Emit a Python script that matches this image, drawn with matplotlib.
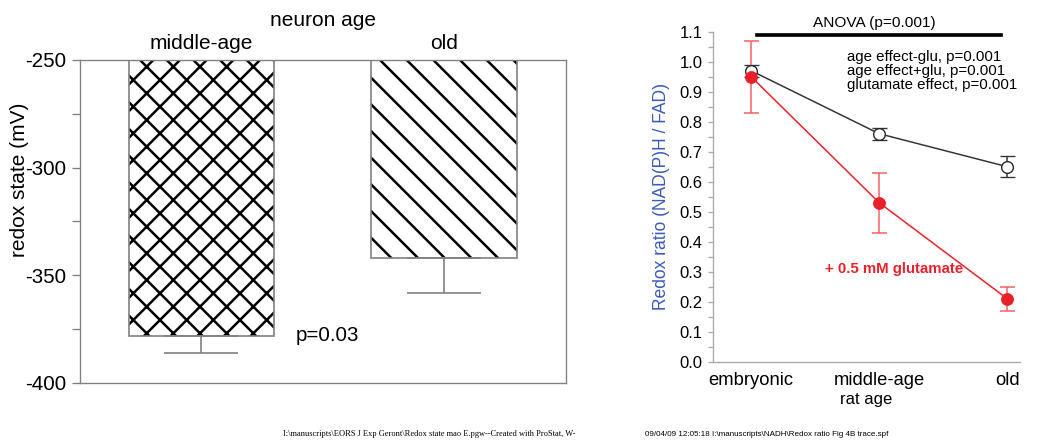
import matplotlib
matplotlib.use('Agg')
import matplotlib.pyplot as plt
from matplotlib.ticker import MultipleLocator, FormatStrFormatter

# 데이터
neuron_ages = ['middle-age', 'old']
redox_state = [-378, -342]
redox_sem = [8, 16]

rat_ages = ['embryonic', 'middle-age', 'old']
ratio_ctrl = [0.97, 0.76, 0.65]
ratio_ctrl_err = [0.02, 0.02, 0.035]
ratio_glu = [0.95, 0.53, 0.21]
ratio_glu_err = [0.12, 0.10, 0.04]

# dpi 80 으로 저장 (해칭 간격 맞추기) -> 크기는 120dpi 기준 값에 K 를 곱함
DPI = 80
K = 120 / DPI

plt.rcParams['font.family'] = ['Liberation Sans', 'DejaVu Sans']
plt.rcParams['axes.unicode_minus'] = False
plt.rcParams['hatch.linewidth'] = 1.5 * K
plt.rcParams['axes.linewidth'] = 0.8 * K

fig = plt.figure(figsize=(1050 / DPI, 444 / DPI), dpi=DPI)
grey = '#808080'
red = '#e8202a'

# ---- 왼쪽: 막대 그래프 ----
ax1 = fig.add_axes([0.0762, 0.1374, 0.4626, 0.7275])
xs = range(len(neuron_ages))
heights = [v - (-250) for v in redox_state]
ax1.bar(xs, heights, bottom=-250, width=0.6, color='white', edgecolor='black',
        linewidth=0, hatch=['x', '\\'])
ax1.bar(xs, heights, bottom=-250, width=0.6, color='none', edgecolor=grey, linewidth=1 * K)
ax1.errorbar(xs, redox_state, yerr=[redox_sem, [0] * len(redox_sem)], fmt='none',
             ecolor=grey, elinewidth=1 * K, capsize=22 * K, capthick=1 * K)
ax1.set_xlim(-0.5, 1.5)
ax1.set_ylim(-400, -250)
ax1.set_yticks([-400, -350, -300, -250])
ax1.yaxis.set_minor_locator(MultipleLocator(25))
ax1.tick_params(axis='y', which='both', direction='out', length=5 * K, width=0.8 * K,
                color=grey, labelsize=12.3 * K, pad=3 * K)
ax1.xaxis.tick_top()
ax1.set_xticks(list(xs))
ax1.set_xticklabels(neuron_ages)
ax1.tick_params(axis='x', length=0, labelsize=12.5 * K, pad=4 * K)
ax1.xaxis.set_label_position('top')
ax1.set_xlabel('neuron age', fontsize=12.5 * K, labelpad=5 * K)
for s in ax1.spines.values():
    s.set_color(grey)
ax1.set_ylabel('redox state (mV)', fontsize=12.5 * K)
ax1.yaxis.set_label_coords(-0.105, 0.63)
ax1.text(0.39, -378, 'p=0.03', fontsize=12.3 * K, va='center', ha='left')

# ---- 오른쪽: 선 그래프 ----
ax2 = fig.add_axes([0.6788, 0.1854, 0.2926, 0.7432])
xr = range(len(rat_ages))
ax2.errorbar(xr, ratio_ctrl, yerr=ratio_ctrl_err, color='#333333', lw=0.9 * K,
             marker='o', ms=7 * K, mfc='white', mec='#222222', mew=0.8 * K,
             ecolor='#333333', elinewidth=0.9 * K, capsize=4.5 * K, capthick=0.9 * K)
ax2.errorbar(xr, ratio_glu, yerr=ratio_glu_err, color=red, lw=0.9 * K,
             marker='o', ms=7 * K, mfc=red, mec=red,
             ecolor='#f06060', elinewidth=0.9 * K, capsize=4.5 * K, capthick=0.9 * K)
ax2.set_xlim(-0.3, 2.1)
ax2.set_ylim(0, 1.1)
ax2.yaxis.set_major_locator(MultipleLocator(0.1))
ax2.yaxis.set_minor_locator(MultipleLocator(0.05))
ax2.yaxis.set_major_formatter(FormatStrFormatter('%.1f'))
ax2.tick_params(axis='y', which='both', direction='out', length=3 * K, width=0.8 * K,
                color='#aaaaaa', labelsize=10 * K, pad=3 * K)
ax2.set_xticks(list(xr))
ax2.set_xticklabels(rat_ages)
ax2.tick_params(axis='x', length=0, labelsize=11 * K, pad=6 * K)
ax2.set_xlabel('rat age', fontsize=10 * K, labelpad=2 * K)
ax2.spines['top'].set_visible(False)
ax2.spines['right'].set_visible(False)
ax2.spines['left'].set_color('#aaaaaa')
ax2.spines['bottom'].set_color('#aaaaaa')
ax2.set_ylabel('Redox ratio (NAD(P)H / FAD)', fontsize=10.5 * K, color='#3b5bb5',
               labelpad=6 * K)

ax2.plot([0.044, 1.95], [1.09, 1.09], color='black', lw=2.2 * K, clip_on=False)
ax2.text(0.963, 1.105, 'ANOVA (p=0.001)', fontsize=9.2 * K, ha='center', va='bottom')
for i, s in enumerate(['age effect-glu, p=0.001', 'age effect+glu, p=0.001',
                       'glutamate effect, p=0.001']):
    ax2.text(0.745, 1.015 - i * 0.046, s, fontsize=9 * K, ha='left', va='center')
ax2.text(0.575, 0.31, '+ 0.5 mM glutamate', fontsize=9 * K, fontweight='bold',
         color=red, ha='left', va='center')

# 하단 파일 경로
fig.text(283 / 1050, 1 - 434 / 444,
         'I:\\manuscripts\\EORS J Exp Geront\\Redox state mao E.pgw--Created with ProStat, W-',
         fontsize=5 * K, family=['Liberation Serif'], va='center', ha='left')
fig.text(645 / 1050, 1 - 434 / 444,
         '09/04/09 12:05:18 I:\\manuscripts\\NADH\\Redox ratio Fig 4B trace.spf',
         fontsize=4.8 * K, va='center', ha='left')

fig.savefig('out.png', dpi=DPI)
